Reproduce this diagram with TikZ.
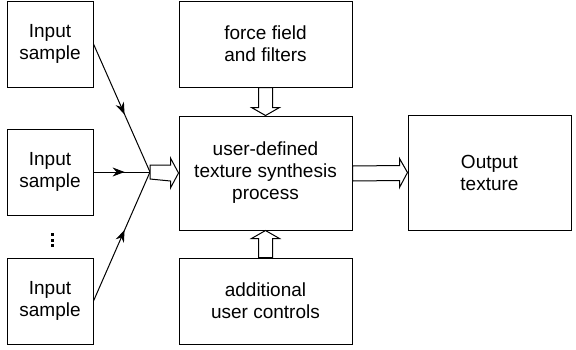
\documentclass[tikz,border=0pt]{standalone}
\usepackage{fontspec}
\setmainfont{Liberation Sans}
\usetikzlibrary{arrows.meta,decorations.markings,calc}
\begin{document}
\begin{tikzpicture}[x=1pt,y=-1pt,
  box/.style={draw,line width=1pt,inner sep=0pt,align=center,
    font=\fontsize{19}{22}\selectfont},
  conn/.style={line width=1pt,postaction={decorate},
    decoration={markings,mark=at position 0.55 with {\arrow{Stealth[length=12pt,width=9pt]}}}},
  hollow/.style={draw,line width=1pt,fill=white,line join=miter},
  dot/.style={fill=black,minimum size=3pt,inner sep=0pt}]
\useasboundingbox (0,0) rectangle (576,349);
\node[box,minimum width=86pt,minimum height=86pt] (in1) at (50,44) {Input\\sample};
\node[box,minimum width=86pt,minimum height=86pt] (in2) at (50,172) {Input\\sample};
\node[box,minimum width=86pt,minimum height=86pt] (in3) at (50,301) {Input\\sample};
\node[dot] (d1) at (52,234.5) {};
\node[dot] (d2) at (52,240) {};
\node[dot] (d3) at (52,245.5) {};
\node[box,minimum width=173pt,minimum height=86pt] (ff) at (265.5,44) {force field\\and filters};
\node[box,minimum width=173pt,minimum height=114pt] (tp) at (265.5,173) {user-defined\\texture synthesis\\process};
\node[box,minimum width=173pt,minimum height=86pt] (uc) at (265.5,301) {additional\\user controls};
\node[box,minimum width=163pt,minimum height=115pt] (out) at (489.5,172.5) {Output\\texture};
\coordinate (j) at (150,172);
\draw[conn] (in1.east) -- (j);
\draw[conn] (in2.east) -- (j);
\draw[conn] (in3.east) -- (j);
% hollow arrow into process
\draw[hollow] (j) ++(0,-7) -- ($(tp.west)+(-8,-8)$) -- ++(0,-7) -- (tp.west) -- ++(-8,15) -- ++(0,-7) -- ($(j)+(0,7)$) -- cycle;
% process to output
\draw[hollow] ($(tp.east)+(0,-7)$) -- ($(out.west)+(-8,-7)$) -- ++(0,-7) -- (out.west) -- ++(-8,15) -- ++(0,-7) -- ($(tp.east)+(0,8)$) -- cycle;
% force field down
\draw[hollow] ($(ff.south)+(-7,0)$) -- ($(tp.north)+(-7,-8)$) -- ++(-7,0) -- (tp.north) -- ++(14,-8) -- ++(-7,0) -- ($(ff.south)+(7,0)$) -- cycle;
% user controls up
\draw[hollow] ($(uc.north)+(-7,0)$) -- ($(tp.south)+(-7,8)$) -- ++(-7,0) -- (tp.south) -- ++(14,8) -- ++(-7,0) -- ($(uc.north)+(7,0)$) -- cycle;
\end{tikzpicture}
\end{document}
